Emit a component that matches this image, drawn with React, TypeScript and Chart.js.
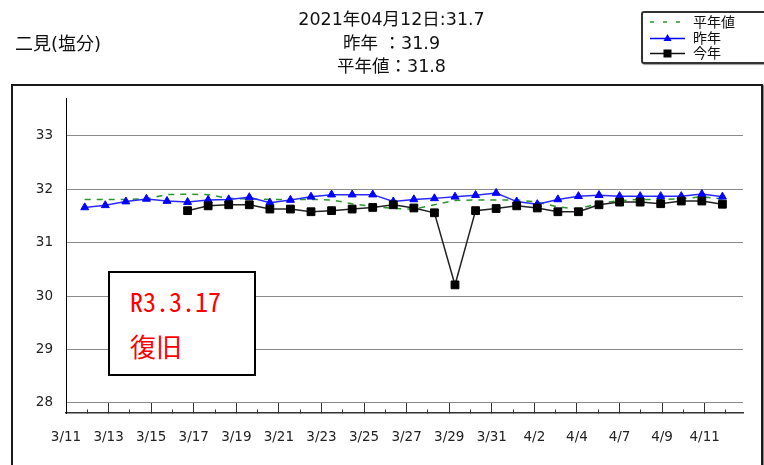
import React, { useEffect, useRef } from 'react';
import { Chart, registerables } from 'chart.js';

Chart.register(...registerables);

// ---- data ----
const TITLE_LINES = ['2021年04月12日:31.7', '昨年 ：31.9', '平年値：31.8'];
const STATION = '二見(塩分)';
const NOTE_LINES = ['R3.3.17', '復旧'];
const SERIES_NAMES = ['平年値', '昨年', '今年'];

// daily observations (32 points)
const DATA_DAYS = [
  '3/12', '3/13', '3/14', '3/15', '3/16', '3/17', '3/18', '3/19', '3/20', '3/21',
  '3/22', '3/23', '3/24', '3/25', '3/26', '3/27', '3/28', '3/29', '3/30', '3/31',
  '4/1', '4/2', '4/3', '4/4', '4/5', '4/6', '4/7', '4/8', '4/9', '4/10', '4/11', '4/12',
];

const NORMAL = [
  31.81, 31.81, 31.81, 31.82, 31.9, 31.91, 31.9, 31.83, 31.82, 31.81,
  31.81, 31.81, 31.8, 31.73, 31.68, 31.64, 31.63, 31.71, 31.79, 31.8,
  31.8, 31.8, 31.76, 31.67, 31.63, 31.74, 31.79, 31.81, 31.81, 31.82, 31.86, 31.82,
];

const LAST_YEAR = [
  31.66, 31.7, 31.77, 31.82, 31.78, 31.76, 31.8, 31.81, 31.85, 31.75,
  31.8, 31.86, 31.9, 31.9, 31.9, 31.77, 31.81, 31.83, 31.86, 31.89,
  31.93, 31.77, 31.72, 31.81, 31.87, 31.89, 31.87, 31.87, 31.87, 31.87, 31.91, 31.86,
];

const THIS_YEAR = [
  null, null, null, null, null, 31.6, 31.69, 31.71, 31.71, 31.63,
  31.63, 31.58, 31.6, 31.63, 31.66, 31.71, 31.65, 31.56, 30.21, 31.6,
  31.64, 31.69, 31.65, 31.58, 31.58, 31.71, 31.76, 31.76, 31.73, 31.78, 31.78, 31.72,
];

// axis tick labels (one tick per day, label every second tick)
const TICK_LABELS = [
  '3/11', '', '3/13', '', '3/15', '', '3/17', '', '3/19', '', '3/21', '', '3/23', '', '3/25', '',
  '3/27', '', '3/29', '', '3/31', '', '4/2', '', '4/4', '', '4/7', '', '4/9', '', '4/11', '',
];
const Y_TICKS = [28, 29, 30, 31, 32, 33];

const FONT = "'DejaVu Sans', 'Noto Sans CJK JP', sans-serif";
const GREEN = '#2a962a';
const BLUE = '#0000ff';

function LegendSample({ kind }: { kind: number }) {
  return (
    <svg width={36} height={16} style={{ display: 'block' }}>
      {kind === 0 && (
        <line x1={0} y1={8} x2={34} y2={8} stroke={GREEN} strokeWidth={1.5} strokeDasharray="4 9" />
      )}
      {kind === 1 && (
        <>
          <line x1={0} y1={8.5} x2={35} y2={8.5} stroke={BLUE} strokeWidth={1.5} />
          <polygon points="17.5,4 21.5,11 13.5,11" fill={BLUE} />
        </>
      )}
      {kind === 2 && (
        <>
          <line x1={0} y1={8.5} x2={35} y2={8.5} stroke="#111" strokeWidth={1.5} />
          <rect x={13.5} y={4.5} width={8} height={8} fill="#000" />
        </>
      )}
    </svg>
  );
}

export default function App() {
  const canvasRef = useRef<HTMLCanvasElement>(null);

  useEffect(() => {
    const toPts = (arr: (number | null)[]) => arr.map((v, i) => ({ x: i, y: v }));
    const chart = new Chart(canvasRef.current as HTMLCanvasElement, {
      type: 'line',
      data: {
        labels: DATA_DAYS,
        datasets: [
          {
            label: SERIES_NAMES[2],
            data: toPts(THIS_YEAR) as any,
            borderColor: '#222',
            backgroundColor: '#000',
            borderWidth: 1.5,
            pointStyle: 'rect',
            pointRadius: 5.5,
            pointBorderWidth: 1,
            pointBorderColor: '#000',
            pointBackgroundColor: '#000',
            xAxisID: 'x',
            yAxisID: 'y',
            order: 0,
            tension: 0,
            spanGaps: false,
          },
          {
            label: SERIES_NAMES[1],
            data: toPts(LAST_YEAR) as any,
            borderColor: '#2a2aff',
            backgroundColor: BLUE,
            borderWidth: 1.5,
            pointStyle: 'triangle',
            pointRadius: 4.6,
            pointBorderWidth: 1,
            pointBorderColor: BLUE,
            pointBackgroundColor: BLUE,
            xAxisID: 'x',
            yAxisID: 'y',
            order: 1,
            tension: 0,
          },
          {
            label: SERIES_NAMES[0],
            data: toPts(NORMAL) as any,
            borderColor: GREEN,
            borderWidth: 1.5,
            borderDash: [6, 6],
            pointRadius: 0,
            xAxisID: 'x',
            yAxisID: 'y',
            order: 2,
            tension: 0,
          },
        ],
      },
      options: {
        animation: false,
        responsive: false,
        maintainAspectRatio: false,
        layout: { padding: { left: 0, top: 98, right: 21, bottom: 0 } },
        plugins: {
          legend: { display: false },
          title: { display: false },
          tooltip: { enabled: false },
        },
        scales: {
          x: { type: 'linear', display: false, min: -0.91, max: 32.0 },
          xt: {
            type: 'linear',
            position: 'bottom',
            min: 0,
            max: 31.8,
            afterBuildTicks: (s: any) => {
              s.ticks = TICK_LABELS.map((_, i) => ({ value: i }));
            },
            afterFit: (s: any) => {
              s.height = 52;
            },
            ticks: {
              autoSkip: false,
              maxRotation: 0,
              minRotation: 0,
              padding: 26,
              color: '#222',
              font: { family: FONT, size: 13.5 },
              callback: (v: any) => TICK_LABELS[v] ?? '',
            },
            grid: {
              drawOnChartArea: false,
              drawTicks: true,
              tickLength: -10,
              tickColor: '#333',
              tickWidth: 1,
              tickBorderDash: (ctx: any) => (ctx.index % 2 === 0 ? [] : [4, 30]),
            },
            border: { display: true, color: '#333', width: 1.5 },
          },
          y: {
            type: 'linear',
            min: 27.81,
            max: 33.71,
            afterBuildTicks: (s: any) => {
              s.ticks = Y_TICKS.map((v) => ({ value: v }));
            },
            afterFit: (s: any) => {
              s.width = 66;
            },
            ticks: {
              padding: 13,
              color: '#222',
              font: { family: FONT, size: 13.5 },
            },
            grid: { color: '#8a8a8a', lineWidth: 1, drawTicks: false },
            border: { display: true, color: '#000', width: 1 },
          },
        },
      } as any,
    });
    return () => chart.destroy();
  }, []);

  const rowTops = [13.7, 29.7, 45.3];

  return (
    <div
      style={{
        position: 'absolute',
        left: 0,
        top: 0,
        width: 764,
        height: 465,
        overflow: 'hidden',
        background: '#fff',
        fontFamily: FONT,
        color: '#111',
      }}
    >
      {/* outer frame */}
      <div
        style={{
          position: 'absolute',
          left: 11,
          top: 84,
          width: 752,
          height: 430,
          boxSizing: 'border-box',
          border: '2px solid #1a1a1a',
          boxShadow: '1px 1px 1px #888',
        }}
      />
      <canvas
        ref={canvasRef}
        width={764}
        height={465}
        style={{ position: 'absolute', left: 0, top: 0, width: 764, height: 465 }}
      />
      {/* station name */}
      <div
        style={{
          position: 'absolute',
          left: 15,
          top: 32,
          fontSize: 18,
          lineHeight: '24px',
          whiteSpace: 'nowrap',
        }}
      >
        {STATION}
      </div>
      {/* title */}
      <div
        style={{
          position: 'absolute',
          left: 0,
          top: 8,
          width: 783,
          textAlign: 'center',
          fontSize: 17.5,
          lineHeight: '23.5px',
          whiteSpace: 'pre',
        }}
      >
        {TITLE_LINES.map((t, i) => (
          <div key={i}>{t}</div>
        ))}
      </div>
      {/* legend */}
      <div
        style={{
          position: 'absolute',
          left: 641,
          top: 11,
          width: 140,
          height: 53,
          boxSizing: 'border-box',
          border: '2px solid #333',
          borderRadius: 3,
          boxShadow: '1px 1px 1px #999',
          background: '#fff',
        }}
      >
        {SERIES_NAMES.map((name, i) => (
          <div
            key={name}
            style={{
              position: 'absolute',
              left: 7,
              top: rowTops[i] - 13,
              height: 16,
              display: 'flex',
              alignItems: 'center',
            }}
          >
            <LegendSample kind={i} />
            <span style={{ marginLeft: 7, fontSize: 14, lineHeight: '16px', whiteSpace: 'nowrap' }}>{name}</span>
          </div>
        ))}
      </div>
      {/* annotation */}
      <div
        style={{
          position: 'absolute',
          left: 108,
          top: 271,
          width: 148,
          height: 105,
          boxSizing: 'border-box',
          border: '2px solid #000',
          background: '#fff',
          color: '#ff0000',
          fontFamily: "'Noto Sans Mono CJK JP', 'Noto Sans CJK JP', 'DejaVu Sans Mono', monospace",
          fontSize: 26,
        }}
      >
        <div style={{ position: 'absolute', left: 20, top: 13, lineHeight: '30px', whiteSpace: 'pre' }}>
          {NOTE_LINES[0]}
        </div>
        <div style={{ position: 'absolute', left: 20, top: 58, lineHeight: '30px', whiteSpace: 'pre' }}>
          {NOTE_LINES[1]}
        </div>
      </div>
    </div>
  );
}
